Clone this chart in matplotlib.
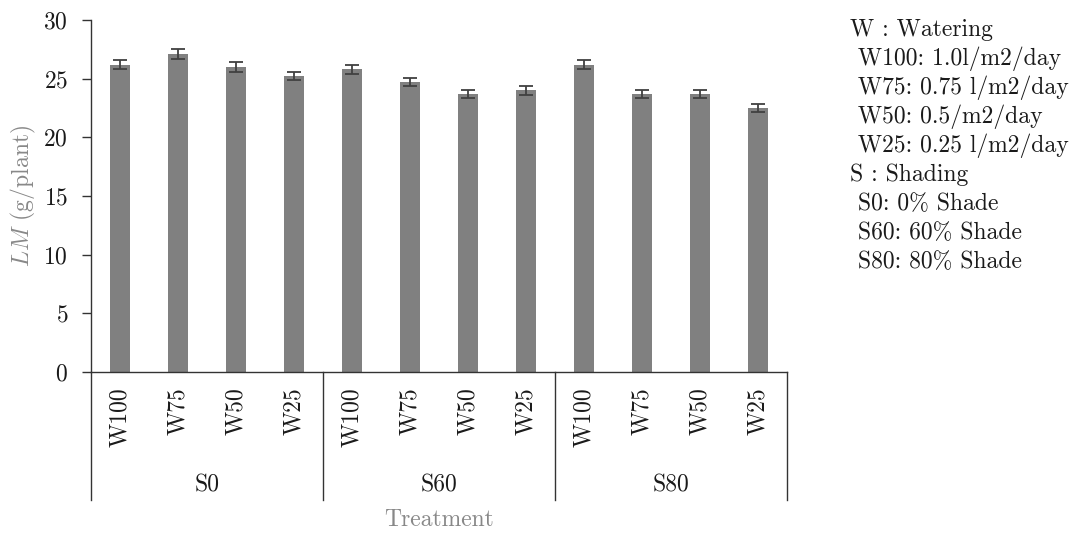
import matplotlib
matplotlib.use("Agg")
import matplotlib.pyplot as plt
from matplotlib.transforms import blended_transform_factory

plt.rcParams['font.family'] = ['cmr10', 'DejaVu Serif']
plt.rcParams['mathtext.fontset'] = 'cm'
plt.rcParams['axes.formatter.use_mathtext'] = True

# Leaf mass per treatment (watering level within shading level)
watering = ["W100", "W75", "W50", "W25"]
shading = ["S0", "S60", "S80"]
lm_values = [26.2, 27.1, 26.0, 25.2,
             25.8, 24.7, 23.7, 24.0,
             26.2, 23.7, 23.7, 22.5]
lm_errors = [0.4, 0.4, 0.4, 0.35,
             0.4, 0.35, 0.35, 0.4,
             0.4, 0.35, 0.35, 0.35]
notes = ["W : Watering",
         " W100: 1.0l/m2/day",
         " W75: 0.75 l/m2/day",
         " W50: 0.5/m2/day",
         " W25: 0.25 l/m2/day",
         "S : Shading",
         " S0: 0% Shade",
         " S60: 60% Shade",
         " S80: 80% Shade"]

labels = [w for s in shading for w in watering]
x = list(range(len(labels)))
FS = 17

fig = plt.figure(figsize=(10.76, 5.35), dpi=100)
ax = fig.add_axes([0.0846, 0.3047, 0.6468, 0.6579])

ax.bar(x, lm_values, width=0.34, color="#808080", zorder=2)
ax.errorbar(x, lm_values, yerr=lm_errors, fmt="none", ecolor="#404040",
            elinewidth=1.3, capsize=5, capthick=1.3, zorder=3)

ax.set_xlim(-0.5, len(labels) - 0.5)
ax.set_ylim(0, 30)
ax.set_yticks(range(0, 31, 5))
ax.tick_params(axis="y", direction="out", length=6.5, width=1, labelsize=FS,
               labelcolor="#1a1a1a", color="#333333", pad=10)
ax.set_xticks(x)
ax.set_xticklabels(labels, rotation=90, fontsize=FS, color="#1a1a1a")
ax.tick_params(axis="x", length=0, pad=11)

for side in ("top", "right"):
    ax.spines[side].set_visible(False)
for side in ("left", "bottom"):
    ax.spines[side].set_color("#333333")
    ax.spines[side].set_linewidth(1)

ax.set_ylabel(r"$\mathit{LM}$ (g/plant)", fontsize=FS, color="#888888", labelpad=4)

trans = blended_transform_factory(ax.transData, ax.transAxes)
n = len(watering)
for gi, s in enumerate(shading):
    left = gi * n - 0.5
    ax.plot([left, left], [0, -0.364], transform=trans, color="#333333",
            lw=1, clip_on=False)
    ax.text(left + n / 2, -0.321, s, transform=trans, ha="center",
            va="center", fontsize=FS, color="#1a1a1a")
right = len(labels) - 0.5
ax.plot([right, right], [0, -0.364], transform=trans, color="#333333",
        lw=1, clip_on=False)

ax.text(0.5, -0.42, "Treatment", transform=ax.transAxes, ha="center",
        va="center", fontsize=FS, color="#888888")

for i, line in enumerate(notes):
    fig.text(850 / 1076, 1 - (30 + i * 29) / 535, line, fontsize=FS,
             color="#1a1a1a", ha="left", va="center")

fig.savefig("out.png", dpi=100)
